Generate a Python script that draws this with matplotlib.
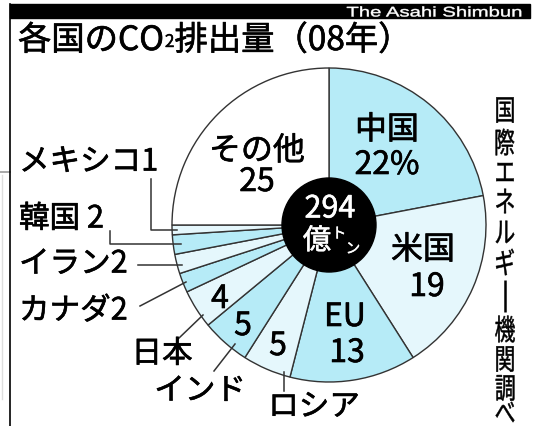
import matplotlib
matplotlib.use("Agg")
import matplotlib.pyplot as plt
import matplotlib.patheffects as pe
from matplotlib.patches import Circle, Rectangle, PathPatch
from matplotlib.textpath import TextPath
from matplotlib.font_manager import FontProperties
from matplotlib.transforms import Affine2D

plt.rcParams['font.family'] = ['Noto Sans CJK JP', 'DejaVu Sans']

# CO2排出量の国別シェア(%)、中国から時計回り
countries = ['中国', '米国', 'EU', 'ロシア', 'インド', '日本', 'カナダ', 'イラン', '韓国', 'メキシコ', 'その他']
shares = [22, 19, 13, 5, 5, 4, 2, 2, 2, 1, 25]
total = 294  # 億トン

title_parts = ['各国のCO', '2', '排出量（08年）']
source = '国際エネルギー機関調べ'
credit = 'The Asahi Shimbun'

CYAN = '#b6ebf7'
PALE = '#e5f7fc'
colors = [CYAN if i % 2 == 0 else PALE for i in range(len(shares) - 1)] + ['white']

W, H = 533, 427
CX, CY, R = 329, 226, 157

fig = plt.figure(figsize=(W / 100, H / 100), dpi=100)
ax = fig.add_axes([0, 0, 1, 1])

# y軸は下向き(ピクセル座標)なので、反時計回り指定で見た目は時計回りになる
ax.pie(shares, colors=colors, startangle=-90, counterclock=True,
       center=(CX, CY), radius=R,
       wedgeprops=dict(edgecolor='#333333', linewidth=1.0))
ax.set_xlim(0, W)
ax.set_ylim(H, 0)
ax.set_aspect('equal')
ax.axis('off')

ax.add_patch(Circle((CX, CY), 47, color='black', zorder=3))

# 文字を少し太らせる
def thick(color='black', w=0.45):
    return [pe.withStroke(linewidth=w, foreground=color)]


def label(x, y, s, size, color='black', ha='center', va='center', w=0.45, **kw):
    return ax.text(x, y, s, fontsize=size, color=color, ha=ha, va=va,
                   path_effects=thick(color, w), zorder=kw.pop('zorder', 6), **kw)


def squeezed(x, y, s, size, sx=1.0, color='black', family='Noto Sans CJK JP', lw=0.35):
    # 横方向に伸縮させた文字をパスとして描く(中心揃え)
    tp = TextPath((0, 0), s, size=size, prop=FontProperties(family=family))
    bb = tp.get_extents()
    tr = Affine2D().translate(-(bb.x0 + bb.x1) / 2, -(bb.y0 + bb.y1) / 2).scale(sx, -1).translate(x, y)
    ax.add_patch(PathPatch(tr.transform_path(tp), fc=color, ec=color, lw=lw, zorder=5))


# 枠と見出し帯
ax.add_patch(Rectangle((10, 5), 520, 14, color='black', zorder=4))
ax.plot([10, 10], [5, H], color='black', lw=1.2, zorder=4)
ax.plot([0, 10], [173, 173], color='#999999', lw=1.2)
ax.plot([2, 2], [176, 400], color='#dddddd', lw=1.0)
squeezed(434, 12.5, credit, 14, sx=1.45, color='white', family='Liberation Sans', lw=0.3)

# タイトル
r = fig.canvas.get_renderer()
x = 18
t = label(x, 51, title_parts[0], 24, ha='left', va='baseline')
x += t.get_window_extent(r).width
t = label(x + 1, 48, title_parts[1], 12.5, ha='left', va='baseline', w=0.3)
x += t.get_window_extent(r).width + 1
label(x, 51, title_parts[2], 24, ha='left', va='baseline')

# 出典(縦書き)
src_y = [111, 143, 173, 202, 233, 263, 297, 330, 360, 389, 413]
for ch, yy in zip(source, src_y):
    if ch == 'ー':
        # 縦書きの長音は縦棒で
        ax.plot([505, 505], [281, 313], color='black', lw=1.8, solid_capstyle='butt')
        continue
    squeezed(505, yy, ch, 29, sx=0.72)

# 円グラフ内のラベル
fs_in = 23
inner = {
    '中国': ((387, 131), (387, 166)),
    'その他': ((257, 152), (257, 183)),
    '米国': ((423, 251), (427, 288)),
    'EU': ((345, 318), (347, 354)),
}
for name, (p_name, p_val) in inner.items():
    v = shares[countries.index(name)]
    label(*p_name, name, fs_in)
    label(*p_val, f'{v}%' if name == '中国' else f'{v}', fs_in)

for name, pos in {'ロシア': (278, 347), 'インド': (243, 327), '日本': (220, 300)}.items():
    label(*pos, f'{shares[countries.index(name)]}', fs_in)

# 中心の総量
label(330, 210, f'{total}', 22, color='white', w=0.4)
label(317, 242, '億', 20.5, color='white', w=0.4)
label(339, 235, 'ト', 10.5, color='white', w=0.3)
label(353, 250, 'ン', 10.5, color='white', w=0.3)

# 外側のラベルと引き出し線
fs_out = 22
outer = {
    'メキシコ': ('{}{}', (19, 163), 'left', [(151, 180), (151, 231), (177, 231)]),
    '韓国': ('{} {}', (19, 220), 'left', [(110, 232), (110, 245), (181, 245)]),
    'イラン': ('{}{}', (19, 265), 'left', [(138, 266), (182, 266)]),
    'カナダ': ('{}{}', (19, 312), 'left', [(140, 307), (186, 283)]),
    '日本': ('{}', (162, 355), 'center', [(178, 340), (203, 316)]),
    'インド': ('{}', (200, 392), 'center', [(214, 372), (235, 345)]),
    'ロシア': ('{}', (314, 408), 'center', [(284, 373), (284, 392)]),
}
for name, (fmt, pos, ha, line) in outer.items():
    label(*pos, fmt.format(name, shares[countries.index(name)]), fs_out, ha=ha)
    xs, ys = zip(*line)
    ax.plot(xs, ys, color='#333333', lw=1.1, zorder=2)

fig.savefig('out.png', dpi=100)
